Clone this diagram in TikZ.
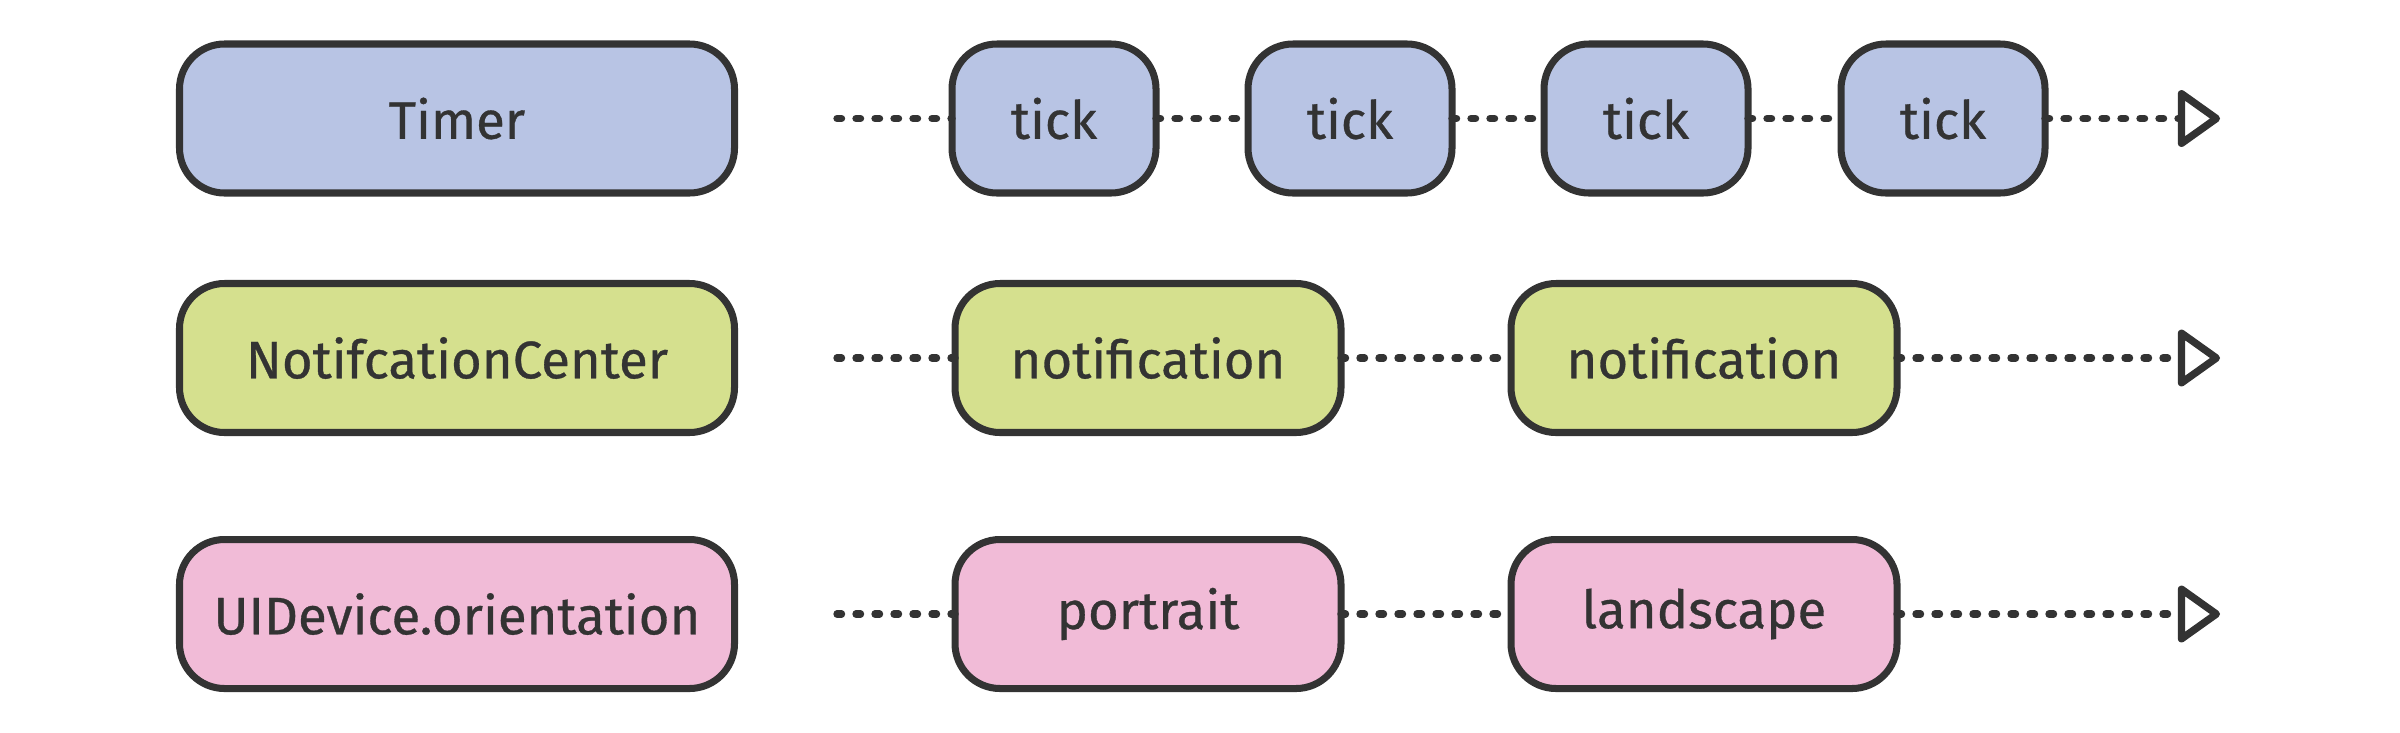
\documentclass[tikz,border=0pt]{standalone}
\usepackage{fontspec}
\setmainfont{Fira Sans}
\newfontfamily\labelfont{Fira Sans}[FakeBold=0.6]
\usetikzlibrary{arrows.meta}
\definecolor{ink}{HTML}{333333}
\definecolor{cblue}{HTML}{B8C4E4}
\definecolor{cgreen}{HTML}{D5E08E}
\definecolor{cpink}{HTML}{F1BBD7}
\tikzset{
  box/.style={draw=ink, line width=2pt, rounded corners=0.45cm, text=ink,
    font=\labelfont\fontsize{15}{18}\selectfont, minimum height=1.49cm, inner sep=0pt, outer sep=0pt},
  src/.style={box, minimum width=5.55cm},
  small/.style={box, minimum width=2.04cm},
  mid/.style={box, minimum width=3.86cm},
  blueb/.style={fill=cblue},
  greenb/.style={fill=cgreen},
  pinkb/.style={fill=cpink},
  flow/.style={draw=ink, line width=2.1pt, line cap=round, dash pattern=on 0.045cm off 0.145cm},
  flowend/.style={flow, -{Triangle[open, length=0.45cm, width=0.62cm, line join=round]}}
}
\begin{document}
\begin{tikzpicture}
\useasboundingbox (0,0) rectangle (24,7.32);
% row 1
\node[src, blueb] (timer) at (4.57,6.135) {Timer};
\node[small, blueb] (t1) at (10.54,6.135) {tick};
\node[small, blueb] (t2) at (13.50,6.135) {tick};
\node[small, blueb] (t3) at (16.46,6.135) {tick};
\node[small, blueb] (t4) at (19.43,6.135) {tick};
\coordinate (s1) at (8.37,6.135);
\coordinate (e1) at (22.20,6.135);
\draw[flow] (s1) -- (t1);
\draw[flow] (t1) -- (t2);
\draw[flow] (t2) -- (t3);
\draw[flow] (t3) -- (t4);
\draw[flowend] (t4) -- (e1);
% row 2
\node[src, greenb] (nc) at (4.57,3.74) {NotifcationCenter};
\node[mid, greenb] (n1) at (11.48,3.74) {notification};
\node[mid, greenb] (n2) at (17.04,3.74) {notification};
\coordinate (s2) at (8.37,3.74);
\coordinate (e2) at (22.20,3.74);
\draw[flow] (s2) -- (n1);
\draw[flow] (n1) -- (n2);
\draw[flowend] (n2) -- (e2);
% row 3
\node[src, pinkb] (ui) at (4.57,1.18) {UIDevice.orientation};
\node[mid, pinkb] (p1) at (11.48,1.18) {portrait};
\node[mid, pinkb] (p2) at (17.04,1.18) {landscape};
\coordinate (s3) at (8.37,1.18);
\coordinate (e3) at (22.20,1.18);
\draw[flow] (s3) -- (p1);
\draw[flow] (p1) -- (p2);
\draw[flowend] (p2) -- (e3);
\end{tikzpicture}
\end{document}
